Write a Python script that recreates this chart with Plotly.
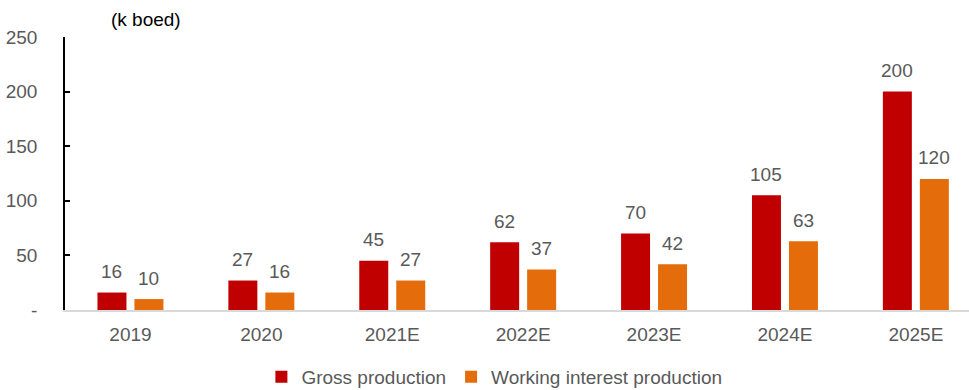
import plotly.graph_objects as go

categories = ["2019", "2020", "2021E", "2022E", "2023E", "2024E", "2025E"]
gross = [16, 27, 45, 62, 70, 105, 200]
working = [10, 16, 27, 37, 42, 63, 120]
y_ticks = [0, 50, 100, 150, 200, 250]
y_ticktext = ["-", "50", "100", "150", "200", "250"]

RED = "#C00000"
ORANGE = "#E46C0A"
GRAY = "#595959"
FONT = "Liberation Sans, Arial, sans-serif"
FS = 19

fig = go.Figure()
fig.add_trace(go.Bar(x=list(range(len(categories))), y=gross, name="Gross production",
                     marker=dict(color=RED, line=dict(width=0))))
fig.add_trace(go.Bar(x=list(range(len(categories))), y=working, name="Working interest production",
                     marker=dict(color=ORANGE, line=dict(width=0))))

off = 0.1413
for i, (g, w) in enumerate(zip(gross, working)):
    fig.add_annotation(x=i - off, y=g, text=str(g), showarrow=False, yanchor="middle",
                       yshift=21, font=dict(size=FS, color=GRAY, family=FONT))
    fig.add_annotation(x=i + off, y=w, text=str(w), showarrow=False, yanchor="middle",
                       yshift=21, font=dict(size=FS, color=GRAY, family=FONT))

fig.add_annotation(xref="paper", yref="paper", x=0.09, y=1, yshift=18, text="(k boed)",
                   showarrow=False, xanchor="center", yanchor="middle",
                   font=dict(size=FS, color="#000000", family=FONT))

fig.update_layout(
    width=969, height=390,
    margin=dict(l=65, r=0, t=37, b=80, autoexpand=False),
    paper_bgcolor="white", plot_bgcolor="white",
    barmode="group", bargap=0.435, bargroupgap=0.216,
    font=dict(family=FONT, size=FS, color=GRAY),
    showlegend=True,
    legend=dict(orientation="h", x=0.475, xanchor="center", y=-0.245, yanchor="middle",
                font=dict(size=FS, color=GRAY, family=FONT), itemwidth=30,
                traceorder="normal"),
    xaxis=dict(range=[-0.5, 6.406], tickmode="array", tickvals=list(range(len(categories))),
               ticktext=categories, showgrid=False, zeroline=False,
               showline=True, linecolor="#D9D9D9", linewidth=1.5, ticks="",
               tickfont=dict(size=FS, color=GRAY, family=FONT), ticklabelstandoff=6),
    yaxis=dict(range=[0, 250], tickmode="array", tickvals=y_ticks, ticktext=y_ticktext,
               showgrid=False, zeroline=False, showline=True, linecolor="#000000", linewidth=1.5,
               ticks="inside", ticklen=5, tickcolor="#000000", tickwidth=1.5,
               tickfont=dict(size=FS, color=GRAY, family=FONT), ticklabelstandoff=22),
)

fig.write_html("out.html")
